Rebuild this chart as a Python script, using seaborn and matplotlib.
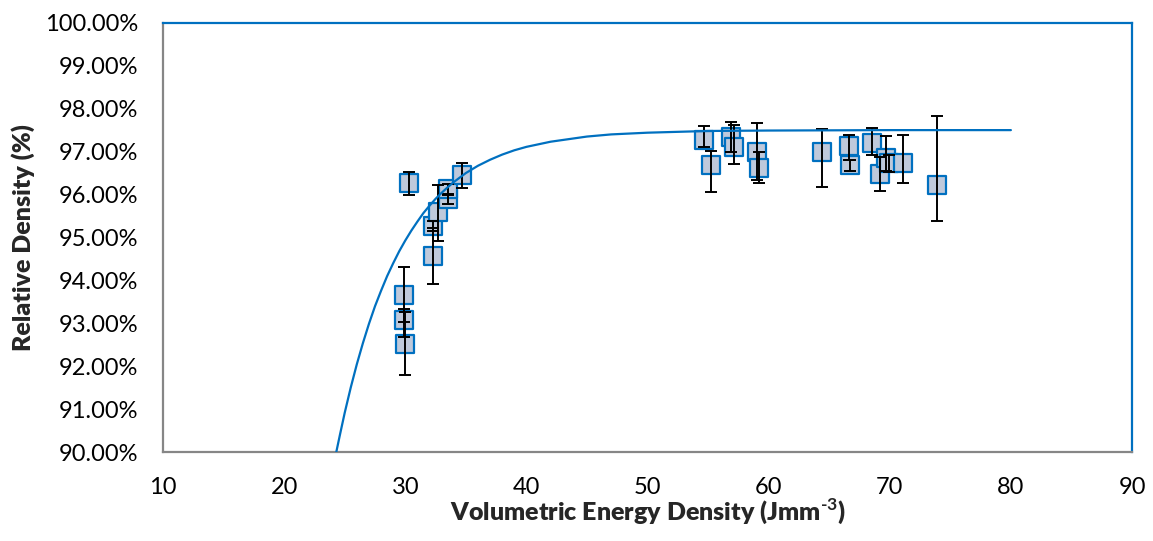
import numpy as np
import pandas as pd
import matplotlib
matplotlib.use("Agg")
import matplotlib.pyplot as plt
import seaborn as sns
from matplotlib.ticker import FuncFormatter

# ---- data ----
energy = [29.9, 29.9, 30.0, 30.3, 32.3, 32.3, 32.7, 33.5, 33.5, 34.7,
          54.7, 55.2, 56.9, 57.1, 59.0, 59.2, 64.4, 66.6, 66.7, 68.5,
          69.2, 69.7, 69.9, 71.1, 73.9]
density = [93.67, 93.08, 92.53, 96.28, 94.57, 95.27, 95.59, 95.90, 96.12, 96.45,
           97.26, 96.69, 97.35, 97.11, 97.00, 96.61, 96.98, 97.13, 96.68, 97.21,
           96.48, 96.85, 96.73, 96.73, 96.23]
err_low = [0.64, 0.40, 0.74, 0.29, 0.66, 0.12, 0.67, 0.12, 0.12, 0.29,
           0.15, 0.64, 0.35, 0.39, 0.67, 0.35, 0.80, 0.32, 0.13, 0.28,
           0.40, 0.30, 0.20, 0.47, 0.84]
err_high = [0.64, 0.26, 0.74, 0.25, 0.66, 0.12, 0.63, 0.12, 0.12, 0.29,
            0.33, 0.32, 0.35, 0.52, 0.67, 0.37, 0.55, 0.26, 0.13, 0.35,
            0.40, 0.51, 0.20, 0.65, 1.60]

# trendline samples
curve_x = [24.3, 24.6, 25.0, 25.5, 26.0, 26.5, 27.0, 27.5, 28.0, 28.5, 29.0, 29.5,
           30.0, 30.5, 31.0, 31.5, 32.0, 32.5, 33.0, 33.5, 34.0, 35.0, 36.0, 37.0,
           38.0, 39.0, 40.0, 41.0, 42.0, 43.0, 44.0, 45.0, 47.0, 50.0, 55.0,
           60.0, 70.0, 80.0]
curve_y = [90.00, 90.40, 90.92, 91.51, 92.05, 92.54, 92.99, 93.40, 93.76, 94.10,
           94.40, 94.68, 94.93, 95.16, 95.37, 95.57, 95.74, 95.90, 96.04, 96.17,
           96.29, 96.50, 96.67, 96.81, 96.93, 97.03, 97.11, 97.17, 97.23, 97.27,
           97.31, 97.35, 97.40, 97.44, 97.48, 97.49, 97.50, 97.50]

x_ticks = [10, 20, 30, 40, 50, 60, 70, 80, 90]
y_ticks = [90, 91, 92, 93, 94, 95, 96, 97, 98, 99, 100]

sns.set_style("white")
plt.rcParams['font.family'] = ['Lato', 'DejaVu Sans']
plt.rcParams['mathtext.fontset'] = 'custom'
plt.rcParams['mathtext.rm'] = 'Lato:bold'
plt.rcParams['mathtext.bf'] = 'Lato:bold'

df = pd.DataFrame({"energy": energy, "density": density})
cdf = pd.DataFrame({"x": curve_x, "y": curve_y})

fig = plt.figure(figsize=(11.53, 5.41), dpi=100)
ax = fig.add_axes([0.1414, 0.164, 0.8404, 0.794])

blue = "#0070C0"
gray = "#868686"

sns.scatterplot(data=df, x="energy", y="density", marker="s", s=160,
                color="#BFC9DB", edgecolor=blue, linewidth=1.6, ax=ax, zorder=3)
ax.errorbar(energy, density, yerr=[err_low, err_high], fmt="none",
            ecolor="black", elinewidth=1.4, capsize=4.5, capthick=1.4, zorder=4)
sns.lineplot(data=cdf, x="x", y="y", color=blue, linewidth=1.6, sort=False,
             estimator=None, ax=ax, zorder=5)

ax.set_xlim(10, 90)
ax.set_ylim(90, 100)
ax.set_xticks(x_ticks)
ax.set_yticks(y_ticks)
ax.yaxis.set_major_formatter(FuncFormatter(lambda v, p: f"{v:.2f}%"))

for side in ["left", "bottom"]:
    ax.spines[side].set_color(gray)
    ax.spines[side].set_linewidth(1.6)
for side in ["top", "right"]:
    ax.spines[side].set_color(blue)
    ax.spines[side].set_linewidth(1.6)
    ax.spines[side].set_visible(True)

ax.tick_params(axis="both", which="major", direction="out", length=5.8,
               width=1.4, color=gray, labelsize=17, labelcolor="black")
ax.tick_params(axis="y", pad=12)
ax.tick_params(axis="x", pad=12)

ax.set_xlabel(r"Volumetric Energy Density (Jmm$^{\text{-3}}$)", fontsize=18,
              fontweight="heavy", labelpad=-1)
ax.set_ylabel("Relative Density (%)", fontsize=18, fontweight="heavy", labelpad=7)
ax.grid(False)

fig.savefig("out.png", dpi=100)
